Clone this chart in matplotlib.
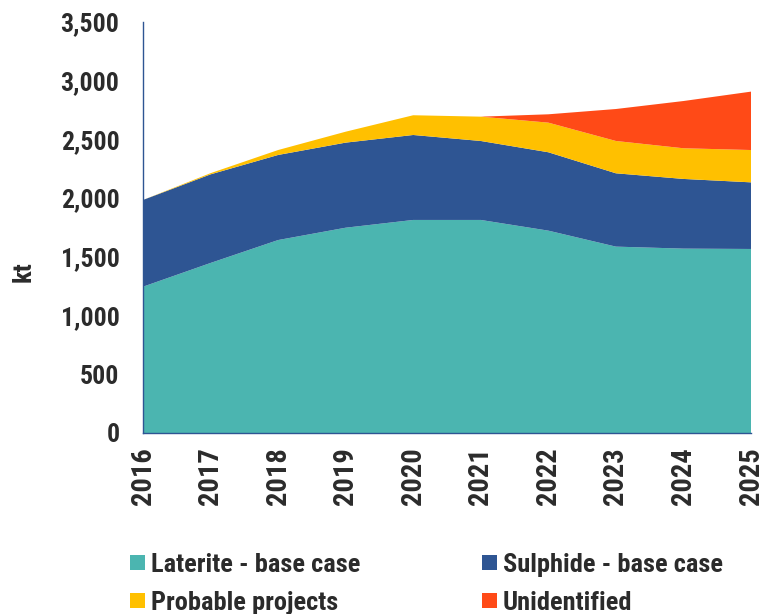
import matplotlib
matplotlib.use("Agg")
import matplotlib.pyplot as plt
from matplotlib.patches import Rectangle
from matplotlib.ticker import FuncFormatter

years = [2016, 2017, 2018, 2019, 2020, 2021, 2022, 2023, 2024, 2025]
laterite = [1245, 1447, 1642, 1747, 1813, 1813, 1722, 1586, 1569, 1566]
sulphide = [738, 754, 724, 724, 723, 672, 667, 624, 593, 567]
probable = [0, 10, 42, 93, 168, 207, 252, 275, 261, 275]
unidentified = [0, 0, 0, 0, 0, 0, 71, 272, 402, 497]
series_names = ["Laterite - base case", "Sulphide - base case", "Probable projects", "Unidentified"]
colors = ["#4BB5B0", "#2E5593", "#FFC000", "#FF4A17"]
y_ticks = [0, 500, 1000, 1500, 2000, 2500, 3000, 3500]

plt.rcParams['font.family'] = ['Roboto Condensed', 'DejaVu Sans']
plt.rcParams['font.weight'] = 'bold'
txt = "#2b2b2b"
W, H = 764, 614

fig = plt.figure(figsize=(W/100, H/100), dpi=100)
ax = fig.add_axes([143/W, 1-433/H, (751-143)/W, (433-21.7)/H])
ax.stackplot(years, laterite, sulphide, probable, unidentified, colors=colors, linewidth=0)
ax.set_xlim(2016, 2025)
ax.set_ylim(0, 3500)
ax.set_yticks(y_ticks)
ax.yaxis.set_major_formatter(FuncFormatter(lambda v, p: f"{int(v):,}"))
ax.set_xticks(years)
ax.set_xticklabels([str(y) for y in years], rotation=90)
ax.tick_params(axis='both', length=0, colors=txt)
ax.tick_params(axis='y', pad=17, labelsize=18.5)
ax.tick_params(axis='x', pad=10, labelsize=20.5)
for lab in ax.get_xticklabels() + ax.get_yticklabels():
    lab.set_fontweight('bold')
for s in ['top', 'right']:
    ax.spines[s].set_visible(False)
for s in ['left', 'bottom']:
    ax.spines[s].set_color('#2E5593')
    ax.spines[s].set_linewidth(1.0)
fig.text(24/W, 1-272/H, "kt", rotation=90, ha='center', va='center', fontsize=19, fontweight='bold', color=txt)

# legend (row-wise, two columns)
leg_pos = [(130, 555), (482, 555), (130, 593), (482, 593)]
for (px, py), c, n in zip(leg_pos, colors, series_names):
    fig.patches.append(Rectangle((px/W, 1-(py+15)/H), 15/W, 15/H, transform=fig.transFigure,
                                 facecolor=c, edgecolor='none'))
    fig.text((px+21)/W, 1-(py+17)/H, n, ha='left', va='baseline', fontsize=19, fontweight='bold', color=txt)

fig.savefig("out.png", dpi=100)
